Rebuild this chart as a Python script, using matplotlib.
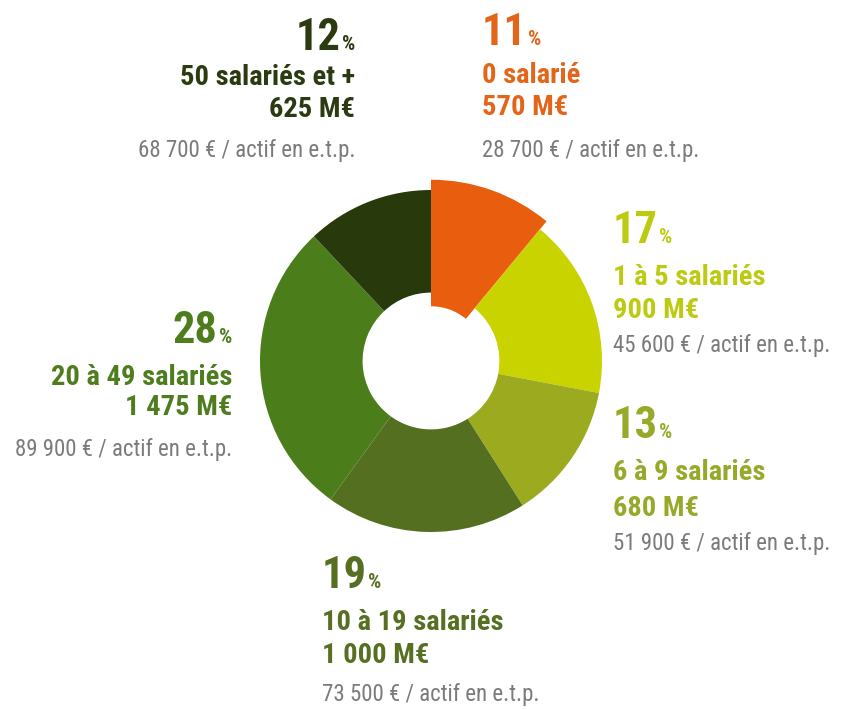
import os
import matplotlib.pyplot as plt
from matplotlib import font_manager
from matplotlib.font_manager import FontProperties

# data, clockwise from the top
pcts = [11, 17, 13, 19, 28, 12]
groups = ["0 salarié", "1 à 5 salariés", "6 à 9 salariés",
          "10 à 19 salariés", "20 à 49 salariés", "50 salariés et +"]
amounts = ["570 M€", "900 M€", "680 M€", "1 000 M€", "1 475 M€", "625 M€"]
per_worker = ["28 700 € / actif en e.t.p.", "45 600 € / actif en e.t.p.",
              "51 900 € / actif en e.t.p.", "73 500 € / actif en e.t.p.",
              "89 900 € / actif en e.t.p.", "68 700 € / actif en e.t.p."]

slice_colors = ["#E85D0E", "#C9D300", "#9BAA1F", "#546F1F", "#4B7D1A", "#283A0C"]
text_colors = ["#E2651A", "#BCCB12", "#98A92A", "#566F22", "#4E7D1E", "#2B3A10"]
grey = "#7B7B7B"


# look for a narrow / condensed face, the original uses a condensed DIN-like font
def is_narrow(f):
    s = (f.name + " " + os.path.basename(f.fname)).lower()
    return ("condensed" in s or "narrow" in s or "cond" in str(f.stretch)) and "italic" not in s and "oblique" not in s


narrow = [f for f in font_manager.fontManager.ttflist if is_narrow(f)]
prefs = ["Roboto Condensed", "Liberation Sans Narrow", "Open Sans Condensed",
         "Noto Sans Condensed", "DejaVu Sans"]
narrow.sort(key=lambda f: prefs.index(f.name) if f.name in prefs else len(prefs))


def face(bold):
    want = 700 if bold else 400
    if narrow:
        fam = narrow[0].name
        opts = [f for f in narrow if f.name == fam]
        best = min(opts, key=lambda f: abs((f.weight if isinstance(f.weight, int) else
                                            (700 if "bold" in str(f.weight) else 400)) - want))
        return FontProperties(fname=best.fname)
    return FontProperties(family="DejaVu Sans", weight="bold" if bold else "normal")


BOLD = face(True)
REG = face(False)

W, H = 844, 709
fig = plt.figure(figsize=(W / 100, H / 100), dpi=100)

# donut
cx, cy, R = 431, 361, 171
ax = fig.add_axes([(cx - R) / W, 1 - (cy + R) / H, 2 * R / W, 2 * R / H])
wedges, _ = ax.pie(pcts, colors=slice_colors, startangle=90, counterclock=False,
                   radius=1, wedgeprops=dict(width=0.6, linewidth=0))
wedges[0].set_radius(1.06)
wedges[0].set_width(0.74)
ax.set_aspect("equal")
ax.axis("off")
ax.set_xlim(-1, 1)
ax.set_ylim(-1, 1)
for w in wedges:
    w.set_clip_on(False)

renderer = fig.canvas.get_renderer()


def fx(x):
    return x / W


def fy(y):
    return 1 - y / H


# (x, align, baselines of the four lines)
blocks = [
    (482, "left", 45, 83, 115, 157),
    (613, "left", 243, 285, 318, 352),
    (613, "left", 438, 480, 516, 550),
    (322, "left", 588, 630, 663, 701),
    (232, "right", 343, 385, 415, 456),
    (355, "right", 50, 85, 117, 157),
]

size_big, size_pct, size_bold, size_grey = 32, 15, 20.5, 16.5


def put(x, y, s, ha, prop, size, col):
    t = fig.text(fx(x), fy(y), s, ha=ha, va="baseline", fontproperties=prop, color=col)
    t.set_fontsize(size)
    return t


for i, (x, ha, b1, b2, b3, b4) in enumerate(blocks):
    col = text_colors[i]
    num = str(pcts[i])
    if ha == "left":
        t = put(x, b1, num, "left", BOLD, size_big, col)
        ext = t.get_window_extent(renderer)
        put(ext.x1 + 1, b1, "%", "left", BOLD, size_pct, col)
    else:
        p = put(x, b1, "%", "right", BOLD, size_pct, col)
        ext = p.get_window_extent(renderer)
        put(ext.x0 - 1, b1, num, "right", BOLD, size_big, col)
    put(x, b2, groups[i], ha, BOLD, size_bold, col)
    put(x, b3, amounts[i], ha, BOLD, size_bold, col)
    put(x, b4, per_worker[i], ha, REG, size_grey, grey)

fig.savefig("out.png", dpi=100, facecolor="white")
